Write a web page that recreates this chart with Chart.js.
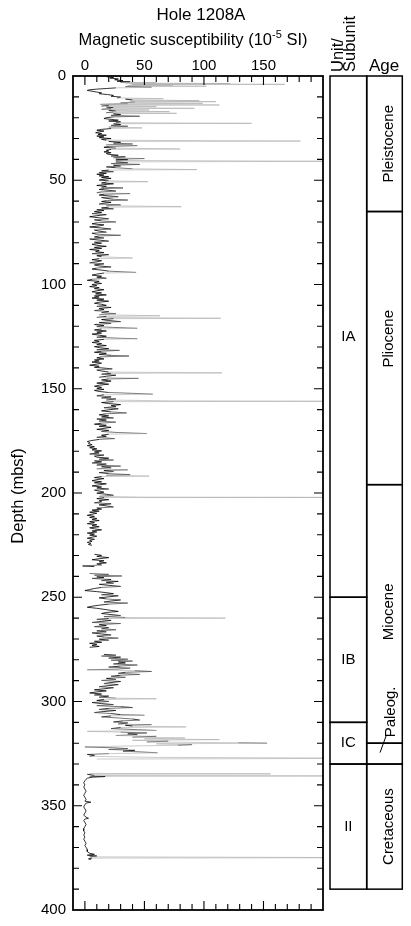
<!DOCTYPE html>
<html><head><meta charset="utf-8">
<script src="https://cdn.jsdelivr.net/npm/chart.js@4.4.1/dist/chart.umd.min.js"></script>
<style>html,body{margin:0;padding:0;background:#fff;}#wrap{position:relative;width:411px;height:926px;}</style>
</head><body><div id="wrap"><canvas id="c" width="411" height="926"></canvas></div>
<script>
// ---- data: [depth (mbsf), magnetic susceptibility (1e-5 SI)] ----
const sus0to65 = [[0.3,18],[0.7,24],[1.0,21],[1.4,28],[1.8,25],[2.2,32],[2.5,27],[2.8,38],[3.0,30],[3.2,60],[3.4,34],[3.6,122],[3.8,38],[4.0,168],[4.1,40],[4.4,74],[4.6,36],[4.9,102],[5.1,34],[5.4,56],[5.7,26],[6.0,18],[6.3,10],[6.6,4],[6.9,2],[7.3,6],[7.7,10],[8.1,14],[8.5,12],[8.9,19],[9.3,24],[9.7,22],[10.1,30],[10.5,27],[10.9,66],[11.1,34],[11.5,40],[11.8,96],[12.0,38],[12.3,110],[12.5,42],[12.8,30],[13.1,99],[13.3,36],[13.6,13],[13.9,113],[14.1,20],[14.4,14],[14.7,60],[14.9,18],[15.2,24],[15.5,92],[15.7,22],[16.0,14],[16.3,54],[16.5,20],[16.8,26],[17.1,71],[17.3,24],[17.6,18],[17.9,77],[18.1,24],[18.5,30],[18.9,22],[19.3,46],[19.6,24],[20.0,18],
[20.4,16],[20.8,22],[21.2,28],[21.6,20],[22.0,30],[22.4,26],[22.7,140],[22.9,24],[23.3,30],[23.7,22],[24.1,36],[24.5,20],[24.9,48],[25.2,22],[25.6,14],[26.0,10],[26.4,16],[26.8,12],[27.2,9],[27.6,14],[28.0,11],[28.4,18],[28.8,10],[29.2,16],[29.6,12],[30.0,22],[30.4,14],[30.8,18],[31.1,124],[31.2,181],[31.4,20],[31.8,30],[32.2,24],[32.6,40],[33.0,18],[33.4,44],[33.8,20],[34.2,16],[34.6,26],[35.0,80],[35.2,22],[35.6,18],[36.0,20],[36.4,16],[36.8,22],[37.2,18],[37.6,20],[38.0,28],[38.4,22],[38.8,34],[39.2,24],[39.6,50],[39.9,26],[40.2,36],[40.5,26],[40.8,165],[40.9,230],[41.2,26],[41.6,36],[42.0,22],[42.4,46],[42.8,24],[43.2,30],[43.6,18],[44.0,26],[44.5,40],[44.9,94],[45.1,20],[45.5,14],[45.9,24],[46.3,12],[46.7,18],[47.1,10],[47.5,16],[47.9,12],[48.3,20],[48.7,14],[49.1,22],[49.5,16],[49.9,12],[50.3,20],[50.7,53],[50.9,18],[51.3,14],[51.7,24],[52.1,16],[52.5,10],[52.9,18],[53.3,14],[53.7,32],[54.0,16],[54.4,12],[54.8,20],[55.2,26],[55.6,14],[56.0,10],[56.4,38],[56.7,16],[57.1,12],[57.5,20],[57.9,28],[58.3,14],[58.7,18],[59.1,24],[59.5,36],[59.8,18],[60.2,14],[60.6,22],[61.0,16],[61.4,12],[61.8,30],[62.2,18],[62.7,81],[62.9,20],[63.3,14],[63.7,24],[64.1,10],[64.5,16]];
const sus65to115 = [[65.0,8],[65.5,14],[66.0,6],[66.5,18],[67.0,10],[67.5,4],[68.0,12],[68.5,20],[69.0,8],[69.5,14],[70.0,26],[70.4,10],[70.9,6],[71.4,16],[71.9,12],[72.4,4],[72.9,14],[73.4,22],[73.9,8],[74.4,12],[74.9,18],[75.4,6],[75.9,10],[76.4,30],[76.7,12],[77.2,8],[77.7,16],[78.2,4],[78.7,12],[79.2,20],[79.7,8],[80.2,14],[80.7,6],[81.2,10],[81.7,18],[82.2,8],[82.7,14],[83.2,4],[83.7,12],[84.2,9],[84.7,16],[85.2,6],[85.7,20],[86.2,10],[86.7,14],[87.3,40],[87.6,12],[88.1,6],[88.6,14],[89.1,10],[89.6,4],[90.1,16],[90.6,8],[91.1,12],[91.6,22],[92.1,10],[92.6,6],[93.1,14],[93.6,20],[94.2,43],[94.5,16],[95.0,10],[95.5,6],[96.0,14],[96.5,10],[97.0,18],[97.5,6],[98.0,2],[98.5,12],[99.0,8],[99.5,14],[100.0,6],[100.5,10],[101.0,4],[101.5,12],[102.0,8],[102.5,16],[103.0,10],[103.5,6],[104.0,14],[104.5,9],[105.0,18],[105.5,8],[106.0,12],[106.5,6],[107.0,16],[107.5,10],[108.0,20],[108.5,12],[109.0,8],[109.5,14],[110.0,18],[110.5,10],[111.0,22],[111.5,12],[112.0,16],[112.5,8],[113.0,20],[113.5,14],[114.0,26]];
const sus115to178 = [[114.5,12],[115.0,63],[115.3,18],[115.8,10],[116.2,114],[116.4,24],[116.8,14],[117.3,20],[117.8,30],[118.2,12],[118.7,22],[119.2,8],[119.7,16],[120.2,10],[120.6,24],[121.0,44],[121.3,14],[121.8,8],[122.3,18],[122.8,10],[123.3,14],[123.8,6],[124.3,12],[124.8,18],[125.3,10],[125.8,30],[126.0,44],[126.3,16],[126.8,8],[127.3,12],[127.8,6],[128.3,14],[128.8,10],[129.3,18],[129.8,8],[130.3,12],[130.8,20],[131.3,10],[131.6,29],[132.0,14],[132.5,8],[133.0,18],[133.5,12],[134.0,22],[134.3,37],[134.7,14],[135.2,10],[135.7,16],[136.2,8],[136.7,12],[137.2,6],[137.7,14],[138.2,10],[138.7,4],[139.2,12],[139.7,8],[140.2,18],[140.5,23],[141.0,10],[141.5,14],[142.0,20],[142.4,115],[142.6,22],[143.0,14],[143.5,26],[144.0,18],[144.5,12],[145.0,45],[145.3,20],[145.8,14],[146.3,22],[146.8,16],[147.3,10],[147.8,20],[148.3,12],[148.8,8],[149.3,14],[149.8,10],[150.3,16],[150.8,8],[151.3,12],[151.8,20],[152.2,40],[152.6,57],[152.9,16],[153.4,10],[153.9,22],[154.4,14],[154.9,26],[155.4,18],[155.8,70],[155.9,140],[156.0,220],[156.2,24],[156.6,14],[157.1,20],[157.6,30],[158.1,22],[158.6,26],[159.1,16],[159.6,28],[160.1,20],[160.6,14],[161.1,22],[161.6,35],[162.0,18],[162.5,12],[163.0,20],[163.5,14],[164.0,24],[164.5,10],[165.0,18],[165.5,12],[166.0,26],[166.5,14],[167.0,8],[167.5,18],[168.0,12],[168.5,22],[169.0,16],[169.5,10],[170.0,20],[170.5,14],[171.0,28],[171.5,52],[171.8,20],[172.3,14],[172.8,18],[173.3,10],[173.9,25],[174.3,12],[174.8,6],[175.3,2],[175.8,4],[176.3,3],[176.8,6],[177.3,2],[177.8,8],[178.3,4]];
const sus178to225 = [[178.8,10],[179.3,6],[179.8,14],[180.3,8],[180.8,12],[181.3,4],[181.8,16],[182.3,8],[182.8,10],[183.3,20],[183.8,12],[184.2,24],[184.6,8],[185.1,14],[185.6,6],[186.1,18],[186.6,10],[187.1,30],[187.4,14],[187.9,22],[188.4,10],[188.9,36],[189.2,16],[189.7,24],[190.2,12],[190.7,20],[191.2,38],[191.5,18],[191.9,54],[192.1,14],[192.6,8],[193.1,16],[193.6,10],[194.1,6],[194.6,14],[195.1,8],[195.6,18],[196.1,12],[196.6,6],[197.1,14],[197.6,10],[198.1,20],[198.6,8],[199.1,12],[199.6,16],[200.1,10],[200.6,18],[201.1,24],[201.6,12],[202.0,50],[202.1,250],[202.2,16],[202.7,10],[203.2,20],[203.7,12],[204.2,14],[204.7,8],[205.2,22],[205.7,12],[206.2,18],[206.7,24],[207.2,10],[207.7,14],[208.2,6],[208.7,12],[209.2,4],[209.7,10],[210.2,6],[210.7,2],[211.2,8],[211.7,4],[212.2,10],[212.7,6],[213.2,12],[213.7,4],[214.2,8],[214.7,2],[215.2,10],[215.7,6],[216.2,12],[216.7,4],[217.2,8],[217.7,14],[218.2,6],[218.7,10],[219.2,2],[219.7,8],[220.2,4],[220.7,10],[221.2,6],[221.7,2],[222.2,8],[222.7,4],[223.2,6],[223.7,2],[224.2,5],[224.7,3],[225.1,6]];
const sus229to235 = [[229.4,8],[229.9,14],[230.4,10],[231.0,20],[231.5,12],[232.0,6],[232.5,16],[233.0,12],[233.5,18],[234.0,10],[234.5,14],[235.0,-2],[235.3,8]];
const sus238to274 = [[238.6,4],[239.0,20],[239.4,8],[239.8,31],[240.2,10],[240.6,16],[241.0,6],[241.5,22],[242.0,14],[242.4,28],[242.8,18],[243.3,24],[243.8,12],[244.3,20],[244.8,30],[245.3,14],[245.8,8],[246.3,4],[246.8,0],[247.3,10],[247.8,18],[248.3,24],[248.8,14],[249.3,28],[249.8,20],[250.3,12],[250.8,18],[251.3,30],[251.8,22],[252.3,16],[252.8,36],[253.3,20],[253.8,12],[254.3,6],[254.8,2],[255.3,10],[255.8,16],[256.3,22],[256.8,28],[257.3,18],[257.8,14],[258.3,22],[258.8,30],[259.3,16],[259.7,34],[260.0,118],[260.2,20],[260.6,10],[261.1,22],[261.6,14],[262.1,6],[262.6,30],[263.1,12],[263.6,18],[264.1,8],[264.6,20],[265.1,14],[265.6,26],[266.1,10],[266.6,18],[267.1,6],[267.6,14],[268.1,22],[268.6,10],[269.1,16],[269.6,28],[270.1,12],[270.6,20],[271.1,8],[271.6,14],[272.1,4],[272.6,10],[273.1,6],[273.6,12],[274.0,4]];
const sus277to328 = [[277.4,16],[277.8,26],[278.2,14],[278.7,30],[279.2,20],[279.7,36],[280.2,22],[280.6,40],[281.0,28],[281.5,34],[282.0,24],[282.5,44],[283.0,30],[283.5,20],[284.0,38],[284.5,26],[284.8,2],[285.2,42],[285.6,56],[286.0,34],[286.5,28],[287.0,46],[287.4,30],[287.9,22],[288.4,34],[288.9,18],[289.4,26],[289.9,14],[290.4,30],[290.9,22],[291.4,16],[291.9,28],[292.4,20],[292.9,12],[293.4,24],[293.9,16],[294.4,8],[294.9,18],[295.4,10],[295.9,4],[296.4,14],[296.9,8],[297.4,20],[297.9,12],[298.4,26],[298.7,60],[299.0,16],[299.5,10],[300.0,20],[300.5,6],[301.0,14],[301.5,24],[302.0,10],[302.5,30],[302.9,40],[303.3,20],[303.8,12],[304.3,26],[304.8,16],[305.3,8],[305.8,22],[306.3,30],[306.6,50],[306.9,22],[307.4,14],[307.9,28],[308.4,40],[308.9,46],[309.3,32],[309.8,24],[310.3,36],[310.8,28],[311.1,56],[311.4,34],[311.8,40],[312.2,85],[312.5,30],[313.0,22],[313.5,44],[313.9,60],[314.3,2],[314.7,30],[315.1,52],[315.5,36],[315.9,44],[316.3,26],[316.7,60],[317.1,40],[317.5,84],[317.9,50],[318.3,113],[318.6,40],[319.0,70],[319.4,52],[319.8,129],[320.0,153],[320.3,60],[320.7,90],[321.0,78],[321.4,30],[321.8,0],[322.2,24],[322.6,36],[323.0,20],[323.4,42],[323.8,32],[324.2,48],[324.6,61],[325.0,20],[325.4,2],[325.8,8],[326.3,4],[326.8,60],[327.2,250],[327.4,150],[327.6,10]];
const sus334to376 = [[334.5,4],[334.7,156],[334.9,2],[335.5,8],[335.7,250],[335.9,4],[336.0,17],[336.3,6],[336.8,2],[337.3,1],[338.0,0],[339.0,-1],[340.0,0],[341.0,-1],[342.0,0],[343.0,1],[344.0,0],[345.0,-1],[346.0,0],[347.0,1],[347.8,0],[348.3,5],[348.7,1],[349.5,0],[350.5,-1],[351.5,0],[352.5,1],[353.5,0],[354.5,-1],[355.5,1],[356.0,3],[356.4,0],[357.0,-1],[358.0,0],[359.0,1],[360.0,0],[361.0,-1],[362.0,-1],[363.0,0],[364.0,-1],[365.0,0],[366.0,-1],[367.0,0],[368.0,1],[369.0,0],[370.0,1],[371.0,2],[372.0,2],[372.8,4],[373.3,8],[373.7,2],[374.1,10],[374.5,4],[374.9,250],[375.1,6],[375.5,3],[375.8,5]];
// contiguous runs; core gaps fall between runs
const coreRuns = [[sus0to65, sus65to115, sus115to178, sus178to225], [sus229to235], [sus238to274], [sus277to328], [sus334to376]];

const xTickLabels = [0, 50, 100, 150];
const yTickLabels = [0, 50, 100, 150, 200, 250, 300, 350, 400];

const unitNames = ['IA', 'IB', 'IC', 'II'];
const unitTops  = [0, 250, 310, 330];
const unitBases = [250, 310, 330, 390];
const unitLabelDepths = [125, 280, 320, 360];

const ageNames  = ['Pleistocene', 'Pliocene', 'Miocene', 'Paleog.', 'Cretaceous'];
const ageTops   = [0, 65, 196, 320, 330];
const ageBases  = [65, 196, 320, 330, 390];
const ageLabelDepths = [32.5, 126, 257, 305, 360];

// ---- build dataset ----
const points = [];
coreRuns.forEach((run, i) => {
  if (i > 0) points.push({x: null, y: null});
  run.forEach(seg => seg.forEach(p => points.push({x: p[1], y: p[0]})));
});

const FONT = '"Liberation Sans", Arial, Helvetica, sans-serif';

const decorPlugin = {
  id: 'decor',
  afterDraw(chart) {
    const ctx = chart.ctx, ca = chart.chartArea;
    const xs = chart.scales.x, ys = chart.scales.y;
    ctx.save();
    ctx.strokeStyle = '#000';
    // ticks inside frame
    ctx.lineWidth = 1.1;
    xs.ticks.forEach(t => {
      if (t.value < 0 || t.value >= 200) return;
      const px = xs.getPixelForValue(t.value);
      const L = xTickLabels.includes(Math.round(t.value)) ? 9 : 6;
      ctx.beginPath();
      ctx.moveTo(px, ca.top); ctx.lineTo(px, ca.top + L);
      ctx.moveTo(px, ca.bottom); ctx.lineTo(px, ca.bottom - L);
      ctx.stroke();
    });
    ys.ticks.forEach(t => {
      if (t.value <= 0 || t.value >= 400) return;
      const py = ys.getPixelForValue(t.value);
      const L = yTickLabels.includes(Math.round(t.value)) ? 9 : 6;
      ctx.beginPath();
      ctx.moveTo(ca.left, py); ctx.lineTo(ca.left + L, py);
      ctx.moveTo(ca.right, py); ctx.lineTo(ca.right - L, py);
      ctx.stroke();
    });
    // frame
    ctx.lineWidth = 1.8;
    ctx.strokeRect(ca.left, ca.top, ca.right - ca.left, ca.bottom - ca.top);

    // titles
    ctx.fillStyle = '#000';
    ctx.textBaseline = 'alphabetic';
    ctx.textAlign = 'center';
    ctx.font = '17px ' + FONT;
    ctx.fillText('Hole 1208A', 201, 20);
    // subtitle with superscript
    const p1 = 'Magnetic susceptibility (10', sup = '-5', p2 = ' SI)';
    ctx.font = '16.5px ' + FONT; const w1 = ctx.measureText(p1).width, w3 = ctx.measureText(p2).width;
    ctx.font = '11px ' + FONT; const w2 = ctx.measureText(sup).width;
    let sx = 193 - (w1 + w2 + w3) / 2;
    ctx.textAlign = 'left';
    ctx.font = '16.5px ' + FONT; ctx.fillText(p1, sx, 45); sx += w1;
    ctx.font = '11px ' + FONT; ctx.fillText(sup, sx, 38); sx += w2;
    ctx.font = '16.5px ' + FONT; ctx.fillText(p2, sx, 45);

    // y-axis title
    ctx.save();
    ctx.translate(18, 496); ctx.rotate(-Math.PI / 2);
    ctx.textAlign = 'center'; ctx.textBaseline = 'middle';
    ctx.font = '16.5px ' + FONT;
    ctx.fillText('Depth (mbsf)', 0, 0);
    ctx.restore();

    // unit / age columns
    const uL = 330, uR = 366.7, aR = 402.3;
    ctx.lineWidth = 1.5;
    unitNames.forEach((n, i) => {
      const t = ys.getPixelForValue(unitTops[i]), b = ys.getPixelForValue(unitBases[i]);
      ctx.strokeRect(uL, t, uR - uL, b - t);
      ctx.font = '15px ' + FONT; ctx.textAlign = 'center'; ctx.textBaseline = 'middle';
      ctx.fillText(n, (uL + uR) / 2, ys.getPixelForValue(unitLabelDepths[i]));
    });
    ageNames.forEach((n, i) => {
      const t = ys.getPixelForValue(ageTops[i]), b = ys.getPixelForValue(ageBases[i]);
      ctx.strokeRect(uR, t, aR - uR, b - t);
      const cx = n === 'Paleog.' ? 391 : 389;
      ctx.save();
      ctx.translate(cx, ys.getPixelForValue(ageLabelDepths[i])); ctx.rotate(-Math.PI / 2);
      ctx.font = '15px ' + FONT; ctx.textAlign = 'center'; ctx.textBaseline = 'middle';
      ctx.fillText(n, 0, 0);
      ctx.restore();
    });
    // leader line for Paleog.
    ctx.lineWidth = 1;
    ctx.beginPath();
    ctx.moveTo(380, ys.getPixelForValue(324.5));
    ctx.lineTo(386.5, ys.getPixelForValue(316));
    ctx.stroke();

    // column headers
    ctx.font = '16.5px ' + FONT;
    ctx.save();
    ctx.translate(338, 72); ctx.rotate(-Math.PI / 2);
    ctx.textAlign = 'left'; ctx.textBaseline = 'middle';
    ctx.fillText('Unit/', 0, 0);
    ctx.fillText('Subunit', 0, 12.5);
    ctx.restore();
    ctx.font = '17px ' + FONT;
    ctx.textAlign = 'center'; ctx.textBaseline = 'alphabetic';
    ctx.fillText('Age', 384, 71);
    ctx.restore();
  }
};

new Chart(document.getElementById('c'), {
  type: 'scatter',
  data: { datasets: [{
    data: points,
    showLine: true,
    spanGaps: false,
    borderColor: '#000',
    borderWidth: 0.7,
    pointRadius: 0,
    tension: 0,
    segment: {
      borderColor: c => {
        const dx = Math.abs(c.p1.x - c.p0.x);
        return dx > 30 ? '#a8a8a8' : (dx > 14 ? '#555' : '#000');
      },
      borderWidth: c => (Math.abs(c.p1.x - c.p0.x) > 30 ? 0.6 : 0.8)
    }
  }]},
  options: {
    responsive: false,
    animation: false,
    devicePixelRatio: 1,
    layout: { padding: { left: 0, right: 88, top: 0, bottom: 12 } },
    plugins: { legend: { display: false }, tooltip: { enabled: false }, title: { display: false } },
    scales: {
      x: {
        type: 'linear', position: 'top', min: -10, max: 200,
        grid: { display: false, drawTicks: false }, border: { display: false },
        ticks: {
          stepSize: 10, autoSkip: false, maxRotation: 0, padding: 1,
          color: '#000', font: { family: FONT, size: 15 },
          callback: v => xTickLabels.includes(Math.round(v)) && Math.abs(v - Math.round(v)) < 1e-6 ? String(Math.round(v)) : ''
        },
        afterFit: s => { s.height = 76; }
      },
      y: {
        type: 'linear', position: 'left', reverse: true, min: 0, max: 400,
        grid: { display: false, drawTicks: false }, border: { display: false },
        ticks: {
          stepSize: 10, autoSkip: false, padding: 7,
          color: '#000', font: { family: FONT, size: 15 },
          callback: v => yTickLabels.includes(Math.round(v)) && Math.abs(v - Math.round(v)) < 1e-6 ? String(Math.round(v)) : ''
        },
        afterFit: s => { s.width = 73; }
      }
    }
  },
  plugins: [decorPlugin]
});
</script>
</body></html>
